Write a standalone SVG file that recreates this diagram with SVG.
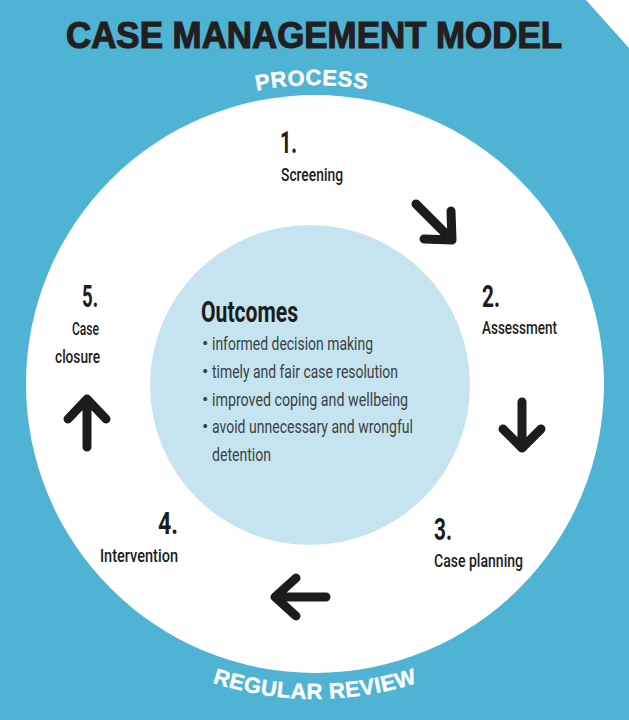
<svg xmlns="http://www.w3.org/2000/svg" width="629" height="720" viewBox="0 0 629 720">
<style>
.lbl{font-family:Roboto,"Liberation Sans",Arial,sans-serif;fill:#1c1c1c}
.num{font-weight:bold;font-size:31px}
.name{font-size:19px;font-weight:500}
.out{font-family:Roboto,"Liberation Sans",Arial,sans-serif;fill:#3a3f44;font-size:19px}
.arc{font-family:"Liberation Sans",Arial,sans-serif;font-weight:bold;font-size:22px;fill:#ffffff;stroke:#ffffff;stroke-width:0.4}
.arrow{fill:none;stroke:#1c1c1c;stroke-width:9;stroke-linecap:round;stroke-linejoin:round}
</style>
<defs>
<path id="topArc" d="M 165.5 125.1 A 299 299 0 0 1 464.5 125.1"/>
<path id="botArc" d="M 103.5 622 A 329 329 0 0 0 526.5 622"/>
</defs>
<rect x="0" y="0" width="629" height="720" fill="#4fb3d3"/>
<polygon points="586,0 629,0 629,48" fill="#ffffff"/>
<circle cx="315" cy="384" r="289" fill="#ffffff"/>
<circle cx="310" cy="385" r="160" fill="#c6e4ef"/>

<g id="title">
<text x="314" y="48" text-anchor="middle" font-family="Liberation Sans, Arial, sans-serif" font-weight="bold" font-size="36" fill="#231f20" stroke="#231f20" stroke-width="1.2" textLength="496" lengthAdjust="spacingAndGlyphs">CASE MANAGEMENT MODEL</text>
</g>
<g id="process-label">
<text class="arc" letter-spacing="0.5"><textPath href="#topArc" startOffset="49%" text-anchor="middle">PROCESS</textPath></text>
</g>
<g id="review-label">
<text class="arc" letter-spacing="0.5"><textPath href="#botArc" startOffset="50%" text-anchor="middle">REGULAR REVIEW</textPath></text>
</g>

<g id="outcomes">
<text class="lbl" x="201" y="322" font-size="30" font-weight="bold" textLength="97" lengthAdjust="spacingAndGlyphs">Outcomes</text>
<text class="out" x="202" y="350">•</text>
<text class="out" x="212" y="350" textLength="161" lengthAdjust="spacingAndGlyphs">informed decision making</text>
<text class="out" x="202" y="378">•</text>
<text class="out" x="212" y="378" textLength="186" lengthAdjust="spacingAndGlyphs">timely and fair case resolution</text>
<text class="out" x="202" y="406">•</text>
<text class="out" x="212" y="406" textLength="196" lengthAdjust="spacingAndGlyphs">improved coping and wellbeing</text>
<text class="out" x="202" y="433">•</text>
<text class="out" x="212" y="433" textLength="201" lengthAdjust="spacingAndGlyphs">avoid unnecessary and wrongful</text>
<text class="out" x="212" y="461" textLength="59" lengthAdjust="spacingAndGlyphs">detention</text>
</g>

<g id="step1">
<text class="lbl num" x="280" y="153" textLength="17" lengthAdjust="spacingAndGlyphs">1.</text>
<text class="lbl name" x="281" y="181" textLength="62" lengthAdjust="spacingAndGlyphs">Screening</text>
</g>
<g id="step2">
<text class="lbl num" x="482" y="307" textLength="18" lengthAdjust="spacingAndGlyphs">2.</text>
<text class="lbl name" x="482" y="334" textLength="75" lengthAdjust="spacingAndGlyphs">Assessment</text>
</g>
<g id="step3">
<text class="lbl num" x="434" y="540" textLength="18" lengthAdjust="spacingAndGlyphs">3.</text>
<text class="lbl name" x="434" y="567" textLength="89" lengthAdjust="spacingAndGlyphs">Case planning</text>
</g>
<g id="step4">
<text class="lbl num" x="158" y="534" textLength="20" lengthAdjust="spacingAndGlyphs">4.</text>
<text class="lbl name" x="100" y="562" textLength="78" lengthAdjust="spacingAndGlyphs">Intervention</text>
</g>
<g id="step5">
<text class="lbl num" x="82" y="307" textLength="16" lengthAdjust="spacingAndGlyphs">5.</text>
<text class="lbl name" x="72" y="335" textLength="27" lengthAdjust="spacingAndGlyphs">Case</text>
<text class="lbl name" x="55" y="363" textLength="45" lengthAdjust="spacingAndGlyphs">closure</text>
</g>

<g id="connectors">
<path class="arrow" d="M416 204 L451 239 M424 239 L452 240 L451 211"/>
<path class="arrow" d="M522 402 L522 448 M503 429 L522 448 L541 429"/>
<path class="arrow" d="M326 597 L276 597 M296 578 L275 597 L296 616"/>
<path class="arrow" d="M87 447 L87 400 M68 419 L87 399 L106 419"/>
</g>
</svg>
